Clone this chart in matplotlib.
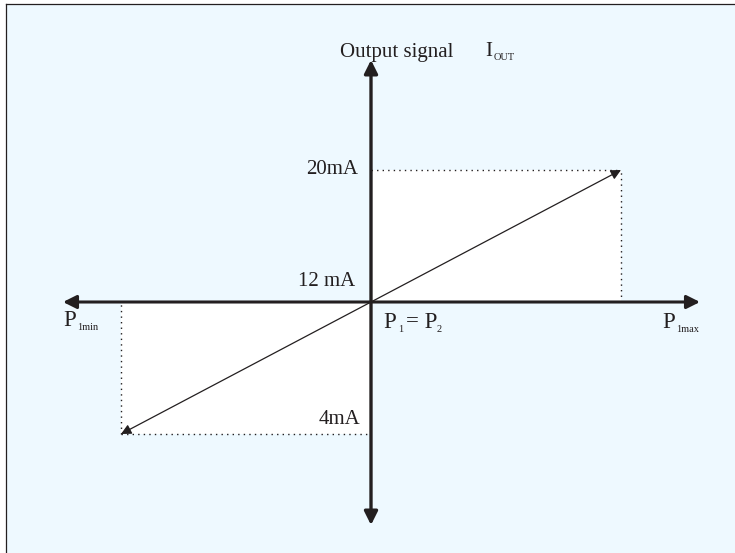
import matplotlib.pyplot as plt
from matplotlib.patches import Rectangle

# Transfer characteristic: differential pressure vs output current
pressure = [-1.0, 0.0, 1.0]          # P1min, P1 = P2, P1max (relative)
current_ma = [4, 12, 20]             # output current in mA
current_labels = ["4mA", "12 mA", "20mA"]

bg = "#eef9ff"
ink = "#231f20"

plt.rcParams["font.family"] = ["Liberation Serif", "DejaVu Serif"]

fig = plt.figure(figsize=(7.35, 5.53), dpi=100)
fig.patch.set_facecolor("white")
ax = fig.add_axes([0, 0, 1, 1])
# mapping chosen so that p=0 / 12 mA sits at the axes crossing
ax.set_xlim(-371 / 250, 364 / 250)
ax.set_ylim(12 - 251 / 16.5, 12 + 302 / 16.5)
ax.axis("off")

sx = 1 / 250      # data units per pixel (x)
sy = 1 / 16.5     # data units per pixel (y)

# background panel with left/top border
x_left = -365 * sx
y_top = 12 + 298 * sy
y_bot = ax.get_ylim()[0]
ax.add_patch(Rectangle((x_left, y_bot), 10, y_top - y_bot,
                       facecolor=bg, edgecolor="none", zorder=0))
ax.plot([x_left, x_left], [y_bot, y_top], color=ink, lw=0.9, zorder=1)
ax.plot([x_left, ax.get_xlim()[1]], [y_top, y_top], color=ink, lw=0.9, zorder=1)

pmin, p0, pmax = pressure
imin, imid, imax = current_ma

# white rectangles under the characteristic
ax.add_patch(Rectangle((p0, imid), pmax - p0, imax - imid, facecolor="white",
                       edgecolor="none", zorder=1))
ax.add_patch(Rectangle((pmin, imin), p0 - pmin, imid - imin, facecolor="white",
                       edgecolor="none", zorder=1))

# dotted guide lines
dot = dict(color=ink, lw=1.0, ls=(0, (1, 3)), zorder=2)
ax.plot([p0, pmax], [imax, imax], **dot)
ax.plot([pmax, pmax], [imid, imax], **dot)
ax.plot([pmin, pmin], [imin, imid], **dot)
ax.plot([pmin, p0], [imin, imin], **dot)

# characteristic line with arrow heads at both ends
for p, i in [(pmax, imax), (pmin, imin)]:
    ax.annotate("", xy=(p, i), xytext=(p0, imid),
                arrowprops=dict(arrowstyle="-|>", color=ink, lw=0.9,
                                mutation_scale=15, shrinkA=0, shrinkB=0),
                zorder=3)

# main axes (double arrows)
ax.annotate("", xy=(-308 * sx, imid), xytext=(329 * sx, imid),
            arrowprops=dict(arrowstyle="<|-|>", color=ink, lw=2.2,
                            mutation_scale=20, shrinkA=0, shrinkB=0), zorder=4)
ax.annotate("", xy=(p0, 12 + 242 * sy), xytext=(p0, 12 - 223 * sy),
            arrowprops=dict(arrowstyle="<|-|>", color=ink, lw=2.4,
                            mutation_scale=20, shrinkA=0, shrinkB=0), zorder=4)

fs = 15
big = 16.5
sub = 7.5
# current labels
ax.text(-13 * sx, imax + 1 * sy, current_labels[2], ha="right", va="center", fontsize=fs, color=ink)
ax.text(-16 * sx, imid + 21 * sy, current_labels[1], ha="right", va="center", fontsize=fs, color=ink)
ax.text(-11 * sx, imin + 15 * sy, current_labels[0], ha="right", va="center", fontsize=fs, color=ink)

# axis title
ax.text(-31 * sx, 12 + 250 * sy, "Output signal", ha="left", va="center", fontsize=fs, color=ink)
ax.text(114 * sx, 12 + 250 * sy, "I", ha="left", va="center", fontsize=fs, color=ink)
ax.text(123 * sx, 12 + 244 * sy, "OUT", ha="left", va="center", fontsize=sub, color=ink)

# pressure labels
ax.text(-308 * sx, imid - 18 * sy, "P", ha="left", va="center", fontsize=big, color=ink)
ax.text(-294 * sx, imid - 25 * sy, "1min", ha="left", va="center", fontsize=sub, color=ink)

ax.text(12 * sx, imid - 21 * sy, "P", ha="left", va="center", fontsize=big, color=ink)
ax.text(27 * sx, imid - 28 * sy, "1", ha="left", va="center", fontsize=sub, color=ink)
ax.text(35 * sx, imid - 21 * sy, "= P", ha="left", va="center", fontsize=big, color=ink)
ax.text(66 * sx, imid - 28 * sy, "2", ha="left", va="center", fontsize=sub, color=ink)

ax.text(291 * sx, imid - 21 * sy, "P", ha="left", va="center", fontsize=big, color=ink)
ax.text(305 * sx, imid - 28 * sy, "1max", ha="left", va="center", fontsize=sub, color=ink)

fig.savefig("out.png", dpi=100, facecolor=fig.get_facecolor())
